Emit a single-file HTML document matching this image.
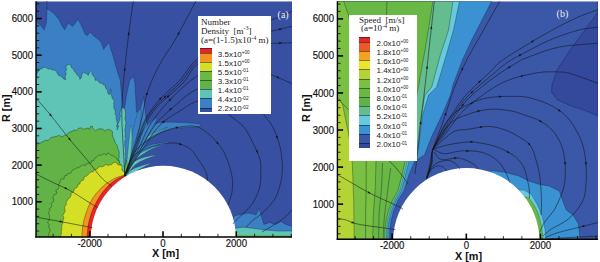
<!DOCTYPE html>
<html><head><meta charset="utf-8"><style>
html,body{margin:0;padding:0;background:#fff;}
body{width:600px;height:262px;position:relative;overflow:hidden;font-family:"Liberation Sans",sans-serif;}
svg{position:absolute;left:0;top:0;}
.tl{position:absolute;font-size:9.6px;line-height:11px;color:#111;white-space:nowrap;-webkit-text-stroke:0.15px #111;transform:scaleY(1.08);}
.tl.c{width:40px;text-align:center;}
.ax{position:absolute;font-size:10.8px;font-weight:bold;line-height:12px;color:#111;white-space:nowrap;}
.leg{position:absolute;background:#fff;box-sizing:border-box;}
.bx{position:absolute;width:11.8px;box-sizing:border-box;border-top:0.6px solid rgba(0,0,0,0.45);}
.lt{position:absolute;font-family:"Liberation Serif",serif;font-size:9px;line-height:9px;color:#1a1a1a;white-space:nowrap;}
.lt sup{font-size:5.6px;vertical-align:baseline;position:relative;top:-3.4px;margin-left:0.3px;}
.ll{position:absolute;font-size:8px;line-height:9px;color:#1a1a1a;white-space:nowrap;}
.ll sup{font-size:4.6px;vertical-align:top;position:relative;top:-1.5px;}
.pl{position:absolute;font-family:"Liberation Serif",serif;font-size:10px;line-height:12px;color:#eeeef6;white-space:nowrap;}
</style></head><body>
<svg width="600" height="262" viewBox="0 0 600 262">
<clipPath id="ca"><rect x="36" y="1.3" width="256" height="235.7"/></clipPath>
<g clip-path="url(#ca)">
<rect x="36" y="1.3" width="256" height="235.7" fill="#3750a2"/>
<polygon points="36.0,21.8 40.6,25.2 44.0,29.8 46.3,22.9 47.0,9.2 46.3,1.3 47.2,1.3 47.4,9.2 49.8,10.3 54.3,13.8 58.9,19.5 62.4,26.4 64.7,29.8 68.1,22.9 72.7,26.4 76.1,21.8 78.4,19.5 81.8,26.4 85.3,34.4 87.6,35.5 89.9,32.1 93.3,35.5 97.9,39.0 101.3,42.4 103.6,49.3 107.1,44.7 109.4,42.4 110.5,48.1 112.8,55.0 115.5,65.0 118.5,75.0 120.3,80.0 121.5,95.0 123.1,110.5 124.5,108.0 126.5,95.0 129.8,80.0 133.7,76.5 135.0,83.7 136.5,112.3 140.0,110.0 143.7,96.5 146.0,118.0 150.0,140.0 124.0,176.0 36.0,176.0" fill="#3b80c4" stroke="#1a2a5a" stroke-width="0.4"/>
<polygon points="36.0,76.6 36.7,74.4 37.5,72.3 39.1,70.7 40.2,68.9 42.1,68.5 43.7,67.2 46.1,67.5 48.2,69.0 50.4,68.8 52.3,69.9 54.8,70.0 56.3,71.6 57.4,73.5 58.5,75.4 60.7,76.1 62.2,77.2 63.4,78.8 65.7,79.7 65.3,77.7 65.3,75.7 66.4,73.9 65.1,71.7 66.6,69.9 66.0,67.9 66.2,65.5 70.0,64.0 70.9,65.7 71.4,67.8 73.4,68.7 74.0,70.6 75.0,72.1 76.3,73.4 77.1,75.0 78.8,76.2 79.8,77.7 79.8,79.4 81.2,77.8 81.6,75.8 82.2,73.8 83.2,72.1 84.8,72.9 86.5,73.7 88.2,75.3 89.1,73.7 89.5,71.8 90.8,70.6 91.8,72.3 92.2,74.4 93.3,76.1 94.9,77.6 95.1,80.2 97.3,80.1 98.6,81.6 99.8,83.0 101.8,83.2 103.1,84.7 105.2,85.3 105.4,87.4 106.2,89.0 107.5,90.3 107.8,92.8 108.9,94.8 110.0,92.9 110.3,90.9 110.6,88.8 111.1,90.6 110.8,92.5 110.9,94.4 111.9,96.1 112.0,98.0 114.4,100.9 113.6,103.0 114.0,104.9 113.7,106.8 114.2,108.7 115.3,110.5 115.4,112.5 115.2,114.4 116.5,116.3 116.0,118.3 116.7,120.2 117.1,122.1 117.4,124.1 116.5,126.2 117.8,128.0 117.0,129.9 117.5,128.2 118.6,126.5 117.6,124.5 118.5,122.9 119.0,121.1 119.8,119.4 120.0,117.6 120.4,115.8 119.8,113.9 120.3,112.1 120.5,110.3 121.3,109.1 122.8,107.2 124.8,109.3 125.5,112.0 125.5,113.8 125.5,115.6 125.2,117.4 125.1,119.2 125.6,121.0 126.1,122.8 125.5,124.6 125.6,126.4 125.3,128.2 124.8,130.0 125.2,131.8 125.4,133.6 125.2,135.5 125.1,137.3 126.1,139.1 124.7,140.9 124.9,142.7 124.7,144.5 124.8,146.4 125.4,148.2 125.4,150.0 125.8,151.9 124.9,153.7 125.8,155.6 125.7,157.5 125.4,159.4 125.4,161.3 125.1,163.1 124.8,165.0 124.6,176.0 36.0,176.0" fill="#5ec4b6" stroke="#1a3a3a" stroke-width="0.45"/>
<polygon points="36.0,147.3 37.0,145.4 38.4,144.2 40.2,143.3 41.7,142.0 43.8,141.5 45.3,140.0 47.9,140.6 49.5,139.2 51.0,137.4 53.0,137.1 55.0,136.8 56.9,136.3 58.8,135.3 60.9,136.4 62.8,136.5 64.6,135.2 66.5,135.0 68.0,133.2 69.9,132.1 72.0,131.4 74.0,130.1 76.6,130.4 78.6,128.3 80.9,127.8 83.2,129.3 85.3,128.7 87.4,128.1 89.4,129.1 90.2,126.8 92.4,126.0 92.6,128.0 93.9,129.4 95.6,130.9 97.6,129.3 100.1,128.7 102.5,129.1 104.8,131.0 106.9,129.8 108.8,129.4 110.9,130.3 112.7,131.8 112.3,134.2 112.6,136.2 113.6,138.1 114.3,140.0 114.9,141.9 115.7,143.7 117.3,145.3 117.4,147.3 118.0,149.1 118.9,150.8 119.2,152.7 119.0,154.6 119.3,156.6 118.7,158.7 118.5,160.8 119.7,162.6 119.0,164.8 119.3,166.8 119.8,168.8 121.3,170.5 122.0,172.5 122.0,174.1 124.6,176.0 90.0,237.0 36.0,237.0" fill="#62b347" stroke="#1a3a1a" stroke-width="0.45"/>
<polygon points="49.7,237.0 48.8,235.5 48.6,233.9 49.6,232.2 50.1,230.5 49.8,228.9 48.7,227.4 49.0,225.8 49.3,224.1 47.3,222.7 48.6,221.1 49.5,219.4 49.4,217.6 49.5,215.9 49.0,214.0 48.4,212.2 50.2,210.6 49.3,208.6 51.0,207.6 52.0,206.2 51.2,204.1 51.8,202.6 53.7,201.6 53.7,199.9 52.9,197.8 53.4,196.3 54.0,194.8 56.4,193.9 56.8,192.3 55.7,190.2 58.0,189.3 58.9,187.9 58.7,186.1 58.6,184.2 60.0,182.9 60.1,180.8 60.9,179.1 64.0,178.9 64.3,176.9 65.0,175.3 67.1,175.3 68.0,173.3 70.1,173.3 71.5,172.3 72.3,170.0 73.8,169.4 75.4,168.7 76.8,167.8 78.8,167.8 79.9,166.3 81.6,165.9 82.9,164.6 85.1,165.8 86.1,163.9 87.7,163.5 89.4,163.2 91.3,162.7 91.7,160.6 93.9,160.5 94.4,158.6 95.8,157.6 97.0,156.5 98.7,154.8 100.8,155.5 102.5,154.5 104.2,153.7 106.4,155.1 107.4,153.1 109.2,153.3 110.4,154.9 112.1,155.5 113.9,156.0 115.2,157.2 116.7,158.1 117.0,159.9 119.4,160.7 119.2,162.9 120.7,164.1 121.6,165.8 120.8,167.9 122.0,169.3 122.3,171.0 122.4,172.9 122.5,174.6 124.0,176.0 90.0,237.0" fill="#6cb845" stroke="#1a3a1a" stroke-width="0.45"/>
<polygon points="60.8,237.0 60.8,235.4 61.3,233.8 61.3,232.2 61.4,230.6 61.9,229.0 61.6,227.4 61.9,225.8 62.0,224.2 63.0,222.7 62.7,221.1 63.4,219.3 63.8,217.5 62.8,215.4 63.8,213.7 64.8,212.1 65.2,210.2 64.5,207.9 65.1,206.1 66.3,204.5 66.2,202.3 67.2,200.9 67.6,199.3 69.4,198.2 70.3,196.8 71.1,195.5 71.0,193.1 73.0,192.3 74.0,190.7 74.3,188.6 76.5,187.9 77.7,186.6 77.7,184.4 79.9,184.0 80.1,182.0 81.3,180.9 83.2,180.2 83.9,178.8 84.4,176.7 86.1,176.2 87.5,175.3 88.6,174.0 89.8,172.7 91.3,171.9 93.3,171.7 94.2,169.5 96.4,169.5 97.8,168.4 99.2,166.7 101.0,166.7 102.8,166.6 104.4,165.8 105.7,164.4 107.8,165.5 109.6,164.8 111.6,164.7 113.2,162.6 115.5,162.6 117.2,163.0 118.1,165.0 120.1,164.9 122.1,165.8 122.1,167.6 121.8,169.4 122.6,170.9 124.2,172.0 125.1,173.8 124.0,176.0 90.0,237.0" fill="#d5df26" stroke="#3a3a10" stroke-width="0.45"/>
<polygon points="82.0,242.7 81.9,241.2 81.9,239.8 81.9,238.3 81.9,236.8 81.9,235.4 82.0,233.9 82.1,232.5 82.2,231.0 82.4,229.6 82.5,228.1 82.7,226.7 83.0,225.3 83.2,223.8 83.5,222.4 83.8,221.0 84.1,219.6 84.5,218.2 84.9,216.8 85.3,215.4 85.7,214.0 86.2,212.6 86.7,211.2 87.2,209.9 87.7,208.5 88.2,207.2 88.8,205.8 89.4,204.5 90.0,203.2 90.7,201.9 91.4,200.6 92.0,199.3 92.8,198.1 93.6,196.9 94.5,195.7 95.4,194.6 96.3,193.4 97.2,192.3 98.2,191.3 99.2,190.2 100.2,189.2 101.2,188.1 102.2,187.1 103.2,186.1 104.3,185.2 105.4,184.3 106.6,183.5 107.8,182.6 109.0,181.8 110.2,181.1 111.4,180.3 112.6,179.6 113.8,178.9 115.0,178.2 116.3,177.6 117.7,177.1 119.0,176.7 120.4,176.3 121.7,175.9 123.1,175.5 124.5,175.2 131.9,187.3 131.0,187.9 130.1,188.5 129.2,189.1 128.3,189.7 127.5,190.3 126.6,191.0 125.8,191.6 125.0,192.3 124.1,193.0 123.3,193.7 122.5,194.4 121.8,195.2 121.0,195.9 120.2,196.7 119.5,197.4 118.8,198.2 118.1,199.0 117.4,199.8 116.7,200.7 116.0,201.5 115.4,202.4 114.7,203.2 114.1,204.1 113.5,205.0 112.9,205.9 112.4,206.8 111.8,207.7 111.3,208.6 110.7,209.6 110.2,210.5 109.7,211.5 109.3,212.4 108.8,213.4 108.4,214.4 108.0,215.4 107.5,216.4 107.2,217.4 106.8,218.4 106.4,219.4 106.1,220.4 105.8,221.4 105.5,222.4 105.2,223.5 105.0,224.5 104.7,225.6 104.5,226.6 104.3,227.7 104.1,228.7 104.0,229.8 103.8,230.8 103.7,231.9 103.6,233.0 103.5,234.0 103.4,235.1 103.4,236.2 103.4,237.3 103.4,238.3 103.4,239.4 103.4,240.5 103.4,241.5" fill="#f39323" stroke="#3a2a10" stroke-width="0.4"/>
<polygon points="87.3,242.4 87.2,241.0 87.2,239.7 87.2,238.3 87.2,236.9 87.2,235.6 87.3,234.2 87.4,232.9 87.5,231.5 87.6,230.2 87.8,228.8 87.9,227.5 88.1,226.1 88.4,224.8 88.6,223.4 88.9,222.1 89.2,220.8 89.5,219.5 89.9,218.1 90.3,216.8 90.7,215.5 91.1,214.2 91.5,212.9 92.0,211.7 92.5,210.4 93.0,209.1 93.5,207.9 94.1,206.6 94.7,205.4 95.3,204.2 95.9,203.0 96.5,201.8 97.2,200.6 97.9,199.4 98.6,198.3 99.3,197.1 100.1,196.0 100.8,194.8 101.6,193.7 102.4,192.6 103.2,191.6 104.1,190.5 105.0,189.4 105.8,188.4 106.7,187.4 107.7,186.4 108.6,185.4 109.6,184.4 110.6,183.6 111.7,182.7 112.8,181.9 113.9,181.1 115.0,180.4 116.1,179.6 117.3,178.9 118.5,178.3 119.7,177.7 121.0,177.1 122.2,176.6 123.4,176.0 124.7,175.5 131.9,187.3 131.0,187.9 130.1,188.5 129.2,189.1 128.3,189.7 127.5,190.3 126.6,191.0 125.8,191.6 125.0,192.3 124.1,193.0 123.3,193.7 122.5,194.4 121.8,195.2 121.0,195.9 120.2,196.7 119.5,197.4 118.8,198.2 118.1,199.0 117.4,199.8 116.7,200.7 116.0,201.5 115.4,202.4 114.7,203.2 114.1,204.1 113.5,205.0 112.9,205.9 112.4,206.8 111.8,207.7 111.3,208.6 110.7,209.6 110.2,210.5 109.7,211.5 109.3,212.4 108.8,213.4 108.4,214.4 108.0,215.4 107.5,216.4 107.2,217.4 106.8,218.4 106.4,219.4 106.1,220.4 105.8,221.4 105.5,222.4 105.2,223.5 105.0,224.5 104.7,225.6 104.5,226.6 104.3,227.7 104.1,228.7 104.0,229.8 103.8,230.8 103.7,231.9 103.6,233.0 103.5,234.0 103.4,235.1 103.4,236.2 103.4,237.3 103.4,238.3 103.4,239.4 103.4,240.5 103.4,241.5" fill="#e3262a" stroke="#3a1010" stroke-width="0.4"/>
<polygon points="226.0,237.0 234.3,215.8 248.6,212.9 256.0,214.8 259.1,208.1 261.0,214.8 263.9,224.4 269.6,222.4 275.3,224.4 281.0,221.5 285.8,224.4 292.0,226.3 292.0,237.0" fill="#3b80c4" stroke="#1a2a5a" stroke-width="0.4"/>
<polygon points="230.0,237.0 235.3,228.2 242.9,227.2 252.4,228.2 265.8,230.0 277.3,231.0 292.0,231.0 292.0,237.0" fill="#5ec4b6" stroke="#1a3a3a" stroke-width="0.4"/>
<polygon points="234.0,237.0 240.0,235.0 260.0,235.3 292.0,235.5 292.0,237.0" fill="#62b347" stroke="none"/>
<polygon points="124.6,176.0 125.9,172.2 127.1,168.4 128.5,164.5 130.0,160.0 131.6,154.6 133.3,148.5 135.4,142.6 138.0,137.4 141.3,133.1 145.2,129.4 149.4,126.3 154.0,124.0 158.9,122.6 164.2,122.2 169.8,122.1 175.5,122.2 182.0,122.4 189.1,122.8 195.4,123.4 199.6,124.0 201.3,124.6 201.1,125.4 199.6,126.1 197.0,126.7 192.8,127.1 187.1,127.5 180.9,127.9 175.5,128.5 171.1,129.4 167.0,130.5 163.2,131.8 159.5,133.4 155.9,135.4 152.4,137.7 149.1,140.3 146.0,142.8 143.1,145.2 140.3,147.7 137.8,150.4 135.4,153.5 133.3,157.2 131.5,161.4 129.8,165.7 128.0,170.0" fill="#3b80c4" stroke="#1a2a5a" stroke-width="0.4"/>
<polygon points="126.0,172.0 127.8,166.7 129.5,161.3 131.2,156.2 133.0,152.0 134.6,149.0 136.2,146.8 137.9,145.0 140.0,143.0 142.6,140.7 145.5,138.4 148.6,136.1 152.0,134.0 156.2,131.9 161.0,129.7 165.2,127.9 167.5,127.0 167.4,127.1 165.6,128.0 162.9,129.4 160.0,131.0 156.9,132.8 153.2,135.0 149.4,137.4 146.0,140.0 143.1,142.6 140.6,145.4 138.2,148.5 136.0,152.0 134.0,156.1 132.3,160.6 130.7,165.4 129.0,170.0" fill="#5ec4b6" stroke="#1a3a3a" stroke-width="0.3"/>
<polygon points="125.5,173.0 127.9,168.2 130.2,163.3 132.7,158.7 135.4,154.8 138.5,151.7 141.9,149.2 145.4,147.2 148.8,145.5 152.2,144.3 155.7,143.7 159.0,143.2 162.0,142.8 165.0,142.2 167.9,141.7 170.1,141.3 171.0,141.4 170.2,142.0 168.1,143.0 165.2,144.2 162.0,145.5 158.4,146.9 154.3,148.4 150.0,150.1 146.0,152.0 142.3,154.1 138.7,156.4 135.4,158.9 132.7,161.5 130.7,164.2 129.4,167.1 128.2,170.1 127.0,173.0" fill="#3b80c4" stroke="#1a2a5a" stroke-width="0.3"/>
<polygon points="126.0,173.0 128.7,168.5 131.4,163.9 134.1,159.6 137.0,156.0 140.2,153.4 143.6,151.4 146.9,149.9 150.0,148.5 153.2,147.1 156.6,145.9 159.1,145.1 160.0,145.0 158.6,145.7 155.5,147.2 151.7,149.0 148.0,151.0 144.5,153.2 140.7,155.6 137.0,158.3 134.0,161.0 131.8,163.9 130.3,166.9 128.9,170.0 127.5,173.0" fill="#5ec4b6" stroke="#1a3a3a" stroke-width="0.3"/>
<polygon points="125.0,174.0 126.1,171.5 127.0,168.9 128.2,166.4 130.0,164.2 132.8,162.2 136.2,160.4 139.8,158.8 143.4,157.5 147.4,156.4 151.7,155.5 155.3,154.9 157.0,154.8 156.0,155.3 153.0,156.4 149.3,157.7 146.0,159.0 143.2,160.3 140.3,161.6 137.5,163.2 135.0,165.0 132.8,167.2 130.8,169.8 128.9,172.4 127.0,175.0" fill="#5ec4b6" stroke="#1a3a3a" stroke-width="0.3"/>
<polygon points="125.0,175.0 127.4,173.2 129.6,171.4 132.1,169.6 135.0,168.0 139.2,166.4 144.3,164.7 148.8,163.4 151.0,163.0 150.2,163.7 147.2,165.2 143.5,167.2 140.0,169.0 137.1,170.7 134.1,172.4 131.0,174.2 128.0,176.0" fill="#5ec4b6" stroke="#1a3a3a" stroke-width="0.3"/>
<polygon points="125.0,174.0 126.1,167.9 127.3,161.8 128.4,155.7 129.5,150.0 130.4,144.7 131.2,139.6 132.0,134.8 133.0,130.0 134.2,125.0 135.5,119.9 136.9,115.3 138.0,112.0 139.0,110.0 139.9,108.9 140.6,108.9 141.0,110.0 141.1,112.3 141.0,115.8 140.6,120.1 140.0,125.0 139.1,130.6 137.9,136.9 136.5,143.6 135.0,150.0 133.4,156.1 131.6,162.1 129.8,168.0 128.0,174.0" fill="#3b80c4" stroke="#1a2a5a" stroke-width="0.3"/>
<polygon points="125.0,172.0 126.9,166.5 128.8,161.0 130.7,155.5 133.0,150.0 135.7,144.2 138.8,138.2 141.9,132.7 145.0,128.0 148.4,124.1 152.2,120.8 155.3,118.5 157.0,118.0 156.7,119.6 155.0,122.9 152.5,127.3 150.0,132.0 147.3,137.2 144.2,143.2 141.0,149.4 138.0,155.0 135.2,159.9 132.4,164.3 129.7,168.6 127.0,173.0" fill="#3b80c4" stroke="#1a2a5a" stroke-width="0.3"/>
<polygon points="125.0,174.0 125.5,170.6 126.0,167.4 126.5,163.9 127.0,160.0 127.5,155.3 128.0,150.1 128.5,144.8 129.0,140.0 129.5,135.2 130.1,130.3 130.6,126.5 131.0,125.0 131.4,126.5 131.8,130.3 132.0,135.2 132.0,140.0 131.7,144.8 131.3,150.0 130.7,155.2 130.0,160.0 129.2,164.1 128.3,167.8 127.4,171.4 126.5,175.0" fill="#5ec4b6" stroke="#1a3a3a" stroke-width="0.3"/>
<polygon points="124.6,176.0 125.0,168.0 126.5,160.0 128.0,168.0 126.0,176.0" fill="#62b347" stroke="#1a3a1a" stroke-width="0.3"/>
<circle cx="163.35" cy="238.4" r="72.6" fill="#fff"/>
<polyline points="124.6,176.0 124.5,174.1 124.5,172.3 124.4,170.6 124.4,168.9 124.3,167.0 124.2,165.0 124.1,162.7 124.0,160.0 123.8,156.9 123.6,153.2 123.4,149.3 123.1,145.2 122.9,141.1 122.7,137.1 122.5,133.4 122.3,130.0 122.2,127.0 122.0,124.4 121.9,121.9 121.9,119.6 121.8,117.3 121.8,115.0 121.8,112.6 121.8,110.0 121.9,107.3 122.0,104.5 122.1,101.7 122.2,98.8 122.4,95.8 122.6,92.7 122.8,89.5 123.1,86.2 123.4,82.7 123.7,79.0 124.1,75.1 124.5,71.2 124.9,67.1 125.3,63.1 125.8,59.1 126.2,55.2 126.6,51.3 127.1,47.3 127.6,43.3 128.1,39.3 128.6,35.3 129.0,31.5 129.5,27.7 130.0,24.1 130.5,20.7 130.9,17.4 131.4,14.2 131.8,11.2 132.3,8.1 132.7,5.1 133.2,2.1 133.6,-1.0" fill="none" stroke="#141414" stroke-width="0.55" stroke-linejoin="round"/>
<polygon points="124.9,67.6 125.7,70.7 123.5,70.4" fill="#141414"/>
<polygon points="129.0,31.8 129.7,34.9 127.5,34.6" fill="#141414"/>
<polyline points="124.6,176.0 125.6,172.8 126.7,169.6 127.8,166.4 128.8,163.2 129.8,160.0 130.9,156.8 131.9,153.4 133.0,150.0 134.1,146.4 135.2,142.7 136.3,139.0 137.3,135.1 138.4,131.3 139.5,127.5 140.5,123.7 141.4,120.0 142.2,116.4 142.9,112.8 143.6,109.3 144.2,105.8 144.9,102.3 145.6,98.8 146.5,95.4 147.5,91.9 148.7,88.4 150.0,84.9 151.5,81.4 153.0,77.9 154.6,74.5 156.3,71.0 158.0,67.7 159.7,64.4 161.4,61.3 163.1,58.5 164.9,55.8 166.7,53.0 168.6,50.2 170.6,47.2 172.7,43.8 175.0,40.0 177.4,35.7 180.0,30.9 182.8,25.8 185.6,20.5 188.5,15.1 191.3,9.6 194.2,4.2 197.0,-1.0" fill="none" stroke="#141414" stroke-width="0.55" stroke-linejoin="round"/>
<polygon points="147.4,92.1 147.6,95.3 145.5,94.7" fill="#141414"/>
<polygon points="179.5,31.9 179.0,35.0 177.1,34.0" fill="#141414"/>
<polyline points="124.6,176.0 125.8,172.8 126.9,169.5 128.1,166.3 129.3,163.1 130.4,159.9 131.6,156.6 132.8,153.3 134.0,150.0 135.2,146.5 136.4,142.9 137.7,139.2 138.9,135.4 140.2,131.8 141.4,128.3 142.7,125.0 144.0,122.0 145.3,119.3 146.7,116.8 148.1,114.5 149.6,112.4 151.0,110.4 152.4,108.5 153.7,106.7 155.0,105.0 156.2,103.4 157.2,102.1 158.2,101.0 159.2,99.9 160.2,98.8 161.3,97.7 162.6,96.4 164.0,95.0 165.7,93.4 167.5,91.7 169.5,90.0 171.5,88.1 173.7,86.2 175.8,84.2 177.9,82.1 180.0,80.0 181.9,77.8 183.6,75.4 185.3,73.0 187.0,70.4 188.9,67.9 191.0,65.3 193.4,62.6 196.3,60.0 199.7,57.3 203.6,54.5 207.8,51.5 212.3,48.6 216.9,45.8 221.4,43.0 225.8,40.4 230.0,38.0 234.1,35.8 238.2,33.7 242.3,31.7 246.4,29.9 250.2,28.2 253.9,26.6 257.1,25.2 260.0,24.0 262.3,23.0 264.0,22.4 265.4,21.9 266.5,21.6 267.6,21.4 268.7,21.0 270.1,20.6 271.9,19.9 274.1,19.0 276.5,18.0 279.1,16.9 281.9,15.8 284.7,14.5 287.5,13.3 290.3,12.1 293.0,11.0" fill="none" stroke="#141414" stroke-width="0.55" stroke-linejoin="round"/>
<polygon points="161.9,97.1 160.6,100.0 159.0,98.5" fill="#141414"/>
<polyline points="124.6,176.0 125.9,172.8 127.2,169.5 128.5,166.3 129.8,163.1 131.1,159.9 132.4,156.6 133.7,153.3 135.0,150.0 136.3,146.5 137.5,142.9 138.7,139.1 140.0,135.4 141.2,131.7 142.4,128.2 143.7,124.9 145.0,122.0 146.3,119.4 147.7,117.0 149.1,114.9 150.5,112.9 151.9,111.0 153.3,109.3 154.7,107.6 156.0,106.0 157.3,104.5 158.4,103.2 159.6,102.0 160.7,100.9 161.9,99.9 163.1,98.7 164.5,97.4 166.0,96.0 167.7,94.4 169.6,92.7 171.6,90.9 173.7,89.1 175.8,87.1 177.9,85.1 180.0,83.1 182.0,81.0 183.8,78.8 185.4,76.6 186.9,74.2 188.4,71.8 190.1,69.4 192.0,66.9 194.3,64.5 197.0,62.0 200.3,59.5 204.1,56.8 208.2,54.1 212.6,51.4 217.1,48.8 221.5,46.3 225.9,44.0 230.0,42.0 234.0,40.2 238.1,38.6 242.3,37.1 246.3,35.8 250.2,34.7 253.8,33.6 257.1,32.8 260.0,32.0 262.3,31.5 264.0,31.2 265.4,31.1 266.5,31.2 267.6,31.3 268.7,31.3 270.1,31.3 271.9,31.0 274.1,30.6 276.5,30.0 279.1,29.4 281.9,28.8 284.7,28.1 287.5,27.3 290.3,26.7 293.0,26.0" fill="none" stroke="#141414" stroke-width="0.55" stroke-linejoin="round"/>
<polygon points="166.4,95.6 165.0,98.5 163.5,96.9" fill="#141414"/>
<polygon points="282.1,28.7 279.4,30.5 278.9,28.3" fill="#141414"/>
<polyline points="124.6,176.0 126.0,172.8 127.5,169.5 128.9,166.3 130.4,163.1 131.8,159.8 133.2,156.6 134.6,153.3 136.0,150.0 137.3,146.6 138.6,143.1 139.8,139.5 141.0,135.9 142.2,132.4 143.5,129.0 144.7,125.9 146.0,123.0 147.3,120.4 148.7,118.1 150.1,115.9 151.5,113.9 152.9,112.1 154.3,110.3 155.6,108.6 157.0,107.0 158.3,105.5 159.5,104.2 160.7,103.0 161.9,101.9 163.1,100.9 164.5,99.7 165.9,98.4 167.5,97.0 169.3,95.4 171.3,93.7 173.4,91.9 175.5,90.0 177.7,88.1 179.9,86.1 182.0,84.1 184.0,82.0 185.7,79.9 187.3,77.7 188.6,75.4 190.0,73.1 191.5,70.7 193.3,68.4 195.4,66.2 198.0,64.0 201.2,61.8 204.8,59.6 208.8,57.4 213.0,55.2 217.4,53.1 221.7,51.2 226.0,49.5 230.0,48.0 234.0,46.8 238.1,45.8 242.2,45.1 246.3,44.5 250.2,44.0 253.8,43.6 257.1,43.3 260.0,43.0 262.3,42.8 264.0,42.7 265.4,42.8 266.5,42.9 267.6,43.1 268.7,43.3 270.1,43.4 271.9,43.4 274.1,43.4 276.5,43.3 279.1,43.2 281.9,43.1 284.7,43.0 287.5,42.9 290.3,42.8 293.0,42.7" fill="none" stroke="#141414" stroke-width="0.55" stroke-linejoin="round"/>
<polygon points="169.6,95.1 168.1,97.9 166.6,96.3" fill="#141414"/>
<polygon points="282.1,43.1 279.1,44.3 279.1,42.1" fill="#141414"/>
<polyline points="124.6,176.0 126.3,172.7 128.0,169.5 129.7,166.2 131.4,162.9 133.1,159.7 134.7,156.4 136.4,153.2 138.0,150.0 139.5,146.8 140.9,143.7 142.3,140.5 143.7,137.4 145.1,134.3 146.5,131.2 148.2,128.1 150.0,125.0 152.0,122.0 154.0,118.9 156.2,115.9 158.5,113.0 160.9,110.0 163.4,107.0 166.1,104.0 168.9,101.0 171.9,97.9 175.1,94.6 178.5,91.3 182.0,88.0 185.6,84.8 189.2,81.8 192.8,79.0 196.3,76.6 199.8,74.4 203.4,72.5 206.9,70.7 210.5,69.1 214.1,67.7 217.7,66.6 221.3,65.7 225.0,65.0 228.8,64.6 232.7,64.6 236.7,64.9 240.7,65.3 244.7,65.9 248.4,66.6 251.9,67.3 255.0,68.0 257.7,68.7 260.0,69.4 262.1,70.2 264.0,71.1 265.8,72.0 267.7,72.9 269.7,73.9 271.9,74.9 274.3,75.9 276.9,77.0 279.5,78.2 282.2,79.3 284.9,80.5 287.6,81.7 290.3,82.8 293.0,84.0" fill="none" stroke="#141414" stroke-width="0.55" stroke-linejoin="round"/>
<polygon points="171.5,98.3 170.2,101.2 168.6,99.7" fill="#141414"/>
<polygon points="279.7,78.2 276.5,78.0 277.3,76.0" fill="#141414"/>
<polyline points="124.6,176.0 126.5,172.7 128.5,169.5 130.4,166.2 132.3,162.9 134.3,159.7 136.2,156.4 138.1,153.2 140.0,150.0 141.9,146.8 143.7,143.5 145.4,140.3 147.2,137.1 149.0,133.9 150.9,130.8 152.9,127.9 155.0,125.0 157.2,122.3 159.6,119.7 162.0,117.2 164.5,114.8 167.1,112.4 169.7,110.1 172.3,107.9 175.0,105.6 177.7,103.3 180.4,100.9 183.2,98.5 186.0,96.2 188.9,94.0 191.8,92.0 194.8,90.3 197.9,88.9 201.1,87.8 204.4,86.9 207.8,86.2 211.3,85.7 214.8,85.5 218.3,85.4 221.7,85.6 225.0,86.0 228.3,86.7 231.6,87.6 235.0,88.7 238.2,90.1 241.4,91.6 244.5,93.3 247.4,95.1 250.0,97.0 252.4,99.1 254.7,101.5 256.7,104.0 258.7,106.7 260.5,109.4 262.1,111.9 263.7,114.3 265.2,116.4 266.5,118.1 267.7,119.6 268.7,120.9 269.6,122.1 270.5,123.2 271.3,124.5 272.1,125.9 273.0,127.5 273.9,129.4 274.8,131.6 275.8,133.8 276.7,136.2 277.5,138.6 278.3,140.9 279.0,143.2 279.6,145.2 280.1,147.1 280.5,148.9 280.8,150.6 281.1,152.2 281.3,153.8 281.5,155.4 281.6,157.0 281.8,158.5 282.0,160.0 282.1,161.5 282.2,162.9 282.3,164.3 282.3,165.7 282.4,167.1 282.3,168.5 282.3,170.0 282.2,171.5 282.1,173.0 282.0,174.6 281.9,176.1 281.7,177.7 281.4,179.3 281.1,181.0 280.7,182.7 280.2,184.5 279.7,186.4 279.2,188.4 278.5,190.4 277.8,192.4 277.1,194.4 276.2,196.3 275.2,198.2 274.1,200.0 272.8,201.8 271.4,203.5 270.0,205.3 268.5,206.9 267.0,208.5 265.5,210.1 264.1,211.5 262.7,212.8 261.2,214.1 259.8,215.2 258.3,216.3 256.9,217.4 255.5,218.4 254.2,219.3 253.0,220.3 251.9,221.2 251.0,222.1 250.1,223.0 249.2,223.8 248.4,224.6 247.7,225.4 246.8,226.2 246.0,227.0" fill="none" stroke="#141414" stroke-width="0.55" stroke-linejoin="round"/>
<polygon points="172.2,108.0 170.7,110.7 169.2,109.1" fill="#141414"/>
<polygon points="244.4,93.3 241.2,92.8 242.3,90.9" fill="#141414"/>
<polygon points="277.6,138.9 275.6,136.5 277.6,135.7" fill="#141414"/>
<polyline points="124.6,176.0 126.8,172.7 128.9,169.5 131.1,166.2 133.3,162.9 135.4,159.7 137.6,156.4 139.8,153.2 142.0,150.0 144.2,146.8 146.4,143.4 148.6,140.1 150.8,136.8 153.0,133.6 155.3,130.5 157.6,127.6 160.0,125.0 162.5,122.6 165.1,120.5 167.8,118.5 170.6,116.6 173.3,114.9 176.0,113.3 178.6,111.7 181.0,110.2 183.3,108.7 185.5,107.3 187.6,105.9 189.7,104.6 191.7,103.5 193.8,102.5 195.8,101.6 197.9,101.0 200.0,100.6 202.2,100.2 204.4,100.1 206.6,100.1 208.7,100.3 210.9,100.6 213.0,101.2 215.0,102.0 217.0,103.1 218.9,104.5 220.7,106.1 222.6,107.9 224.4,109.9 226.2,111.8 228.0,113.6 229.8,115.3 231.7,116.9 233.6,118.3 235.5,119.8 237.4,121.3 239.2,122.7 241.0,124.2 242.7,125.8 244.2,127.5 245.6,129.3 246.8,131.1 248.0,133.1 249.1,135.0 250.1,137.0 251.1,139.0 252.0,141.0 253.0,143.0 254.0,145.0 255.0,147.0 255.9,149.0 256.8,151.0 257.7,153.0 258.5,154.9 259.1,156.8 259.7,158.5 260.1,160.1 260.4,161.5 260.6,162.9 260.7,164.2 260.8,165.5 260.8,166.8 260.8,168.3 260.8,170.0 260.8,171.9 260.8,173.9 260.8,176.1 260.7,178.3 260.6,180.6 260.4,182.8 260.1,185.0 259.7,187.1 259.1,189.2 258.5,191.2 257.7,193.3 256.8,195.3 255.9,197.3 255.0,199.1 254.0,200.9 253.0,202.6 252.0,204.1 250.9,205.5 249.9,206.8 248.7,208.0 247.6,209.2 246.5,210.3 245.3,211.5 244.2,212.6 243.0,213.8 241.8,214.9 240.6,216.1 239.3,217.2 238.2,218.3 237.1,219.3 236.1,220.2 235.3,221.0 234.7,221.6 234.3,222.1 234.0,222.5 233.7,222.8 233.6,223.1 233.4,223.4 233.2,223.7 233.0,224.0" fill="none" stroke="#141414" stroke-width="0.55" stroke-linejoin="round"/>
<polygon points="165.1,120.5 163.4,123.3 162.0,121.6" fill="#141414"/>
<polygon points="224.6,110.1 221.7,108.6 223.3,107.1" fill="#141414"/>
<polygon points="257.9,153.5 255.7,151.1 257.7,150.3" fill="#141414"/>
<polyline points="124.6,176.0 125.7,173.1 126.8,170.0 127.9,166.9 129.0,163.9 130.1,160.9 131.3,158.0 132.6,155.4 134.0,153.0 135.5,150.9 137.1,149.0 138.8,147.2 140.5,145.6 142.3,144.1 144.2,142.7 146.1,141.4 148.0,140.0 150.0,138.6 152.1,137.4 154.2,136.1 156.4,134.9 158.6,133.8 160.8,132.8 163.0,131.9 165.0,131.0 167.0,130.2 168.9,129.6 170.7,129.0 172.6,128.5 174.4,128.0 176.3,127.6 178.1,127.3 180.0,127.0 181.9,126.7 183.9,126.4 185.9,126.2 187.9,126.0 189.8,125.9 191.8,125.9 193.7,126.1 195.5,126.4 197.3,126.9 199.0,127.6 200.7,128.4 202.4,129.4 204.0,130.4 205.6,131.6 207.2,132.8 208.8,134.1 210.4,135.5 212.1,137.1 213.8,138.8 215.4,140.6 217.0,142.4 218.4,144.1 219.8,145.8 221.0,147.4 222.0,148.9 222.9,150.3 223.6,151.6 224.3,152.9 224.9,154.2 225.4,155.5 226.0,156.7 226.5,158.0 227.0,159.3 227.5,160.5 228.0,161.7 228.4,162.9 228.8,164.1 229.2,165.4 229.6,166.7 230.0,168.0 230.4,169.4 230.8,170.9 231.1,172.4 231.5,173.9 231.8,175.4 232.1,177.0 232.3,178.5 232.5,180.0 232.6,181.5 232.6,183.0 232.6,184.5 232.6,186.0 232.5,187.4 232.3,188.9 232.2,190.3 232.0,191.6 231.8,192.9 231.5,194.2 231.2,195.5 230.8,196.8 230.5,198.0 230.1,199.1 229.8,200.1 229.5,201.0 229.2,201.8 229.0,202.4 228.8,202.9 228.6,203.3 228.4,203.7 228.2,204.1 228.0,204.5 227.8,205.0" fill="none" stroke="#141414" stroke-width="0.55" stroke-linejoin="round"/>
<polygon points="178.8,127.2 176.0,128.8 175.6,126.6" fill="#141414"/>
<polygon points="218.7,144.5 216.0,142.9 217.6,141.5" fill="#141414"/>
<polyline points="124.6,176.0 125.5,173.7 126.4,171.3 127.2,168.8 128.1,166.4 129.0,164.0 129.9,161.8 130.9,159.8 132.0,158.0 133.2,156.5 134.4,155.2 135.7,154.1 137.0,153.2 138.4,152.3 139.9,151.6 141.4,150.8 143.0,150.0 144.7,149.2 146.5,148.5 148.5,147.8 150.4,147.1 152.4,146.5 154.4,146.0 156.2,145.5 158.0,145.0 159.7,144.6 161.3,144.2 162.8,143.9 164.3,143.6 165.8,143.4 167.2,143.2 168.6,143.1 170.0,143.0 171.3,143.0 172.6,143.0 173.9,143.0 175.1,143.1 176.3,143.2 177.5,143.4 178.7,143.7 180.0,144.1 181.4,144.6 182.8,145.1 184.2,145.7 185.7,146.4 187.1,147.1 188.5,147.9 189.8,148.7 191.0,149.6 192.1,150.6 193.0,151.6 193.9,152.8 194.8,154.0 195.5,155.2 196.3,156.4 197.0,157.5 197.7,158.5 198.4,159.4 199.0,160.2 199.5,161.0 200.0,161.8 200.5,162.5 201.0,163.3 201.6,164.1 202.1,165.0 202.7,166.0 203.3,167.1 203.9,168.3 204.6,169.4 205.2,170.6 205.7,171.8 206.2,172.9 206.6,173.9 206.9,174.8 207.1,175.7 207.2,176.5 207.3,177.3 207.3,178.1 207.4,178.9 207.4,179.7 207.5,180.5" fill="none" stroke="#141414" stroke-width="0.55" stroke-linejoin="round"/>
<polygon points="182.2,144.8 179.0,144.9 179.7,142.8" fill="#141414"/>
<polyline points="35.0,97.0 36.8,99.1 38.6,101.1 40.3,103.1 42.1,105.1 43.9,107.1 45.7,109.3 47.7,111.5 49.7,114.0 51.9,116.7 54.1,119.5 56.5,122.6 58.9,125.7 61.3,128.8 63.8,131.9 66.2,135.0 68.6,138.0 71.0,140.9 73.4,143.8 75.9,146.7 78.4,149.6 80.8,152.5 83.1,155.2 85.4,157.9 87.5,160.4 89.5,162.9 91.4,165.3 93.2,167.6 94.9,169.8 96.6,172.0 98.2,174.0 99.8,175.9 101.3,177.6 102.8,179.1 104.2,180.4 105.5,181.5 106.8,182.6 108.1,183.5 109.4,184.5 110.7,185.4 112.0,186.5" fill="none" stroke="#141414" stroke-width="0.55" stroke-linejoin="round"/>
<polygon points="51.8,116.6 49.0,114.9 50.8,113.6" fill="#141414"/>
<polygon points="70.8,140.7 68.1,139.1 69.8,137.7" fill="#141414"/>
<polyline points="35.0,173.5 37.1,174.6 39.2,175.6 41.3,176.7 43.5,177.8 45.6,178.8 47.7,179.9 49.8,180.9 52.0,182.0 54.2,183.0 56.3,184.0 58.4,184.9 60.6,185.9 62.8,186.9 65.0,187.9 67.3,189.1 69.6,190.3 72.1,191.7 74.8,193.4 77.6,195.1 80.4,196.9 83.2,198.6 85.7,200.3 88.0,201.8 90.0,203.0 91.6,204.0 92.8,204.7 93.8,205.3 94.6,205.8 95.3,206.2 95.9,206.6 96.7,207.0 97.5,207.5" fill="none" stroke="#141414" stroke-width="0.55" stroke-linejoin="round"/>
<polygon points="67.6,189.2 64.4,188.8 65.4,186.9" fill="#141414"/>
<polyline points="35.0,217.0 38.5,217.6 42.0,218.2 45.5,218.9 49.0,219.5 52.4,220.1 55.9,220.7 59.4,221.4 62.8,222.0 66.4,222.7 70.2,223.4 74.1,224.2 77.9,224.9 81.5,225.6 84.8,226.2 87.6,226.8 89.7,227.2 91.1,227.5 91.8,227.6 92.1,227.7 92.0,227.7 91.6,227.6 91.3,227.5 91.0,227.5 91.0,227.5" fill="none" stroke="#141414" stroke-width="0.55" stroke-linejoin="round"/>
<polygon points="62.7,222.0 59.5,222.5 59.9,220.3" fill="#141414"/>
<polyline points="293.0,209.0 291.9,210.1 290.8,211.3 289.8,212.4 288.7,213.6 287.6,214.7 286.5,215.8 285.3,216.9 284.0,218.0 282.6,219.1 281.2,220.1 279.6,221.2 278.1,222.2 276.5,223.2 274.9,224.2 273.4,225.1 272.0,226.0 270.7,226.8 269.4,227.6 268.1,228.4 266.9,229.1 265.7,229.8 264.5,230.5 263.2,231.3 262.0,232.0" fill="none" stroke="#141414" stroke-width="0.55" stroke-linejoin="round"/>
</g>
<line x1="36" y1="1.3" x2="36" y2="237.6" stroke="#000" stroke-width="1.4"/>
<line x1="35.3" y1="237.0" x2="292" y2="237.0" stroke="#000" stroke-width="1.4"/>
<line x1="36" y1="231.07" x2="39.2" y2="231.07" stroke="#000" stroke-width="0.8"/>
<line x1="36" y1="223.74" x2="39.2" y2="223.74" stroke="#000" stroke-width="0.8"/>
<line x1="36" y1="216.42" x2="39.2" y2="216.42" stroke="#000" stroke-width="0.8"/>
<line x1="36" y1="209.09" x2="39.2" y2="209.09" stroke="#000" stroke-width="0.8"/>
<line x1="36" y1="201.76" x2="41.7" y2="201.76" stroke="#000" stroke-width="1.6"/>
<line x1="36" y1="194.43" x2="39.2" y2="194.43" stroke="#000" stroke-width="0.8"/>
<line x1="36" y1="187.10" x2="39.2" y2="187.10" stroke="#000" stroke-width="0.8"/>
<line x1="36" y1="179.78" x2="39.2" y2="179.78" stroke="#000" stroke-width="0.8"/>
<line x1="36" y1="172.45" x2="39.2" y2="172.45" stroke="#000" stroke-width="0.8"/>
<line x1="36" y1="165.12" x2="41.7" y2="165.12" stroke="#000" stroke-width="1.6"/>
<line x1="36" y1="157.79" x2="39.2" y2="157.79" stroke="#000" stroke-width="0.8"/>
<line x1="36" y1="150.46" x2="39.2" y2="150.46" stroke="#000" stroke-width="0.8"/>
<line x1="36" y1="143.14" x2="39.2" y2="143.14" stroke="#000" stroke-width="0.8"/>
<line x1="36" y1="135.81" x2="39.2" y2="135.81" stroke="#000" stroke-width="0.8"/>
<line x1="36" y1="128.48" x2="41.7" y2="128.48" stroke="#000" stroke-width="1.6"/>
<line x1="36" y1="121.15" x2="39.2" y2="121.15" stroke="#000" stroke-width="0.8"/>
<line x1="36" y1="113.82" x2="39.2" y2="113.82" stroke="#000" stroke-width="0.8"/>
<line x1="36" y1="106.50" x2="39.2" y2="106.50" stroke="#000" stroke-width="0.8"/>
<line x1="36" y1="99.17" x2="39.2" y2="99.17" stroke="#000" stroke-width="0.8"/>
<line x1="36" y1="91.84" x2="41.7" y2="91.84" stroke="#000" stroke-width="1.6"/>
<line x1="36" y1="84.51" x2="39.2" y2="84.51" stroke="#000" stroke-width="0.8"/>
<line x1="36" y1="77.18" x2="39.2" y2="77.18" stroke="#000" stroke-width="0.8"/>
<line x1="36" y1="69.86" x2="39.2" y2="69.86" stroke="#000" stroke-width="0.8"/>
<line x1="36" y1="62.53" x2="39.2" y2="62.53" stroke="#000" stroke-width="0.8"/>
<line x1="36" y1="55.20" x2="41.7" y2="55.20" stroke="#000" stroke-width="1.6"/>
<line x1="36" y1="47.87" x2="39.2" y2="47.87" stroke="#000" stroke-width="0.8"/>
<line x1="36" y1="40.54" x2="39.2" y2="40.54" stroke="#000" stroke-width="0.8"/>
<line x1="36" y1="33.22" x2="39.2" y2="33.22" stroke="#000" stroke-width="0.8"/>
<line x1="36" y1="25.89" x2="39.2" y2="25.89" stroke="#000" stroke-width="0.8"/>
<line x1="36" y1="18.56" x2="41.7" y2="18.56" stroke="#000" stroke-width="1.6"/>
<line x1="36" y1="11.23" x2="39.2" y2="11.23" stroke="#000" stroke-width="0.8"/>
<line x1="36" y1="3.90" x2="39.2" y2="3.90" stroke="#000" stroke-width="0.8"/>
<line x1="53.08" y1="237.0" x2="53.08" y2="233.8" stroke="#000" stroke-width="0.8"/>
<line x1="71.40" y1="237.0" x2="71.40" y2="233.8" stroke="#000" stroke-width="0.8"/>
<line x1="89.72" y1="237.0" x2="89.72" y2="231.3" stroke="#000" stroke-width="1.6"/>
<line x1="108.04" y1="237.0" x2="108.04" y2="233.8" stroke="#000" stroke-width="0.8"/>
<line x1="126.36" y1="237.0" x2="126.36" y2="233.8" stroke="#000" stroke-width="0.8"/>
<line x1="144.68" y1="237.0" x2="144.68" y2="233.8" stroke="#000" stroke-width="0.8"/>
<line x1="163.00" y1="237.0" x2="163.00" y2="231.3" stroke="#000" stroke-width="1.6"/>
<line x1="181.32" y1="237.0" x2="181.32" y2="233.8" stroke="#000" stroke-width="0.8"/>
<line x1="199.64" y1="237.0" x2="199.64" y2="233.8" stroke="#000" stroke-width="0.8"/>
<line x1="217.96" y1="237.0" x2="217.96" y2="233.8" stroke="#000" stroke-width="0.8"/>
<line x1="236.28" y1="237.0" x2="236.28" y2="231.3" stroke="#000" stroke-width="1.6"/>
<line x1="254.60" y1="237.0" x2="254.60" y2="233.8" stroke="#000" stroke-width="0.8"/>
<line x1="272.92" y1="237.0" x2="272.92" y2="233.8" stroke="#000" stroke-width="0.8"/>
<line x1="291.24" y1="237.0" x2="291.24" y2="233.8" stroke="#000" stroke-width="0.8"/>
<clipPath id="cb"><rect x="337.4" y="1.3" width="260.6" height="238.0"/></clipPath>
<g clip-path="url(#cb)">
<rect x="337.4" y="1.3" width="260.6" height="238.0" fill="#3a57a8"/>
<polygon points="598.0,1.3 598.5,11.0 585.0,30.0 570.0,50.0 557.0,70.0 552.0,85.0 551.5,92.0 557.0,99.5 570.0,105.5 585.0,110.5 598.0,116.0" fill="#34489c" stroke="#1a2050" stroke-width="0.4"/>
<polygon points="337.0,1.3 491.7,1.3 471.7,40.0 462.5,60.0 453.0,85.0 450.5,95.0 442.0,115.0 431.5,137.0 424.5,155.0 414.5,161.5 408.8,175.3 404.2,190.6 398.2,200.0 393.9,210.0 391.2,220.0 389.8,230.0 389.7,239.3 337.0,239.3" fill="#3a92d2" stroke="#1a2a50" stroke-width="0.4"/>
<polygon points="480.0,175.0 492.6,170.6 504.6,172.3 518.3,175.7 528.6,180.9 539.0,184.3 549.2,186.0 559.5,191.2 563.0,201.5 566.4,210.0 573.2,215.2 578.4,223.8 580.1,239.3 500.0,239.3" fill="#3a92d2" stroke="#1a2a50" stroke-width="0.4"/>
<polygon points="515.0,190.0 524.0,190.0 531.0,194.0 537.0,204.0 541.0,213.0 543.5,222.0 545.0,230.0 546.0,239.3 530.0,239.3" fill="#66c9de" stroke="#1a3a40" stroke-width="0.3"/>
<polygon points="522.0,196.0 529.0,198.0 534.0,205.0 538.0,213.0 540.5,222.0 542.0,230.0 543.0,239.3 530.0,239.3" fill="#69b845" stroke="#1a3a1a" stroke-width="0.3"/>
<polygon points="337.0,1.3 459.5,1.3 453.5,30.0 446.0,56.0 436.7,87.0 428.6,95.0 422.6,115.0 419.7,137.0 417.5,150.0 408.8,161.5 405.4,175.3 401.4,190.6 395.9,200.0 391.8,210.0 389.1,220.0 387.8,230.0 387.7,239.3 337.0,239.3" fill="#66c9de" stroke="#1a3a40" stroke-width="0.4"/>
<polygon points="337.0,1.3 453.0,1.3 448.5,30.0 440.0,56.0 431.7,87.0 424.9,95.0 421.4,115.0 418.5,137.0 417.0,150.0 407.2,161.5 403.9,175.3 400.0,190.6 394.6,200.0 390.5,210.0 387.9,220.0 386.6,230.0 386.5,239.3 337.0,239.3" fill="#64bd8e" stroke="#1a3a20" stroke-width="0.4"/>
<polygon points="337.0,1.3 433.0,1.3 425.0,50.0 418.3,87.0 414.0,110.0 410.0,150.0 405.0,161.5 401.9,175.3 398.0,190.6 392.6,200.0 388.6,210.0 386.1,220.0 384.8,230.0 384.7,239.3 337.0,239.3" fill="#69b845" stroke="#1a3a1a" stroke-width="0.4"/>
<polygon points="337.0,1.3 343.7,1.3 348.5,15.0 360.0,80.0 372.0,140.0 376.0,161.5 375.3,187.5 373.4,213.4 372.7,239.3 337.0,239.3" fill="#79c043" stroke="#1e3a1a" stroke-width="0.4"/>
<polygon points="337.0,98.1 338.8,98.1 342.6,104.8 347.4,127.7 350.5,145.0 352.3,163.0 353.7,200.0 354.2,239.3 337.0,239.3" fill="#b4d334" stroke="#2a3a10" stroke-width="0.4"/>
<circle cx="466.3" cy="241.2" r="73.2" fill="#fff"/>
<polyline points="426.5,178.5 426.9,176.6 427.4,174.6 427.8,172.6 428.3,170.7 428.7,168.7 429.2,166.8 429.6,164.9 430.0,163.0 430.4,161.2 430.7,159.5 431.0,157.9 431.3,156.2 431.6,154.6 432.0,152.8 432.4,151.0 433.0,149.0 433.7,146.9 434.5,144.6 435.3,142.3 436.2,139.9 437.2,137.4 438.2,134.9 439.1,132.5 440.0,130.0 440.9,127.5 441.8,125.1 442.6,122.6 443.5,120.1 444.4,117.5 445.3,115.0 446.1,112.5 447.0,110.0 447.8,107.5 448.5,105.2 449.3,102.8 450.0,100.4 450.7,98.0 451.5,95.5 452.5,92.8 453.5,90.0 454.7,87.0 455.9,83.9 457.2,80.6 458.6,77.3 460.1,73.8 461.6,70.4 463.3,66.8 465.0,63.3 466.8,59.7 468.7,56.1 470.8,52.5 472.9,48.8 475.0,45.0 477.2,41.2 479.5,37.3 481.7,33.3 484.0,29.2 486.3,25.0 488.7,20.8 491.2,16.4 493.6,12.1 496.1,7.7 498.6,3.3 501.0,-1.0" fill="none" stroke="#141414" stroke-width="0.55" stroke-linejoin="round"/>
<polygon points="446.2,112.3 446.3,115.4 444.2,114.7" fill="#141414"/>
<polygon points="463.1,67.2 462.9,70.3 460.9,69.4" fill="#141414"/>
<polyline points="426.5,178.5 427.1,176.6 427.7,174.6 428.3,172.6 428.9,170.7 429.5,168.7 430.1,166.8 430.6,164.9 431.0,163.0 431.3,161.2 431.5,159.5 431.6,157.8 431.7,156.2 431.8,154.5 432.1,152.7 432.4,150.9 433.0,149.0 433.8,146.9 434.7,144.7 435.8,142.5 437.0,140.2 438.2,137.8 439.5,135.5 440.8,133.2 442.0,131.0 443.2,128.9 444.3,126.8 445.5,124.8 446.7,122.8 447.9,120.8 449.2,118.7 450.6,116.6 452.0,114.4 453.5,112.1 455.0,109.8 456.5,107.5 458.1,105.1 459.8,102.7 461.7,100.2 463.7,97.6 466.0,95.0 468.6,92.2 471.6,89.2 474.9,86.1 478.2,82.9 481.6,79.8 484.8,76.9 487.6,74.3 490.0,72.0 491.9,70.1 493.3,68.6 494.5,67.3 495.5,66.2 496.4,65.2 497.4,64.2 498.6,63.2 500.0,62.0 501.6,60.8 503.2,59.6 504.9,58.5 506.7,57.3 508.6,56.0 510.8,54.7 513.2,53.2 516.0,51.5 519.2,49.5 522.7,47.4 526.6,45.0 530.7,42.5 534.9,40.0 539.0,37.6 543.1,35.2 547.0,33.0 550.8,30.9 554.5,28.9 558.2,26.9 561.9,24.9 565.6,23.0 569.1,21.2 572.6,19.6 576.0,18.0 579.2,16.6 582.4,15.3 585.4,14.2 588.3,13.1 591.2,12.1 594.1,11.1 597.0,10.1 600.0,9.0" fill="none" stroke="#141414" stroke-width="0.55" stroke-linejoin="round"/>
<polygon points="481.1,80.3 479.6,83.1 478.1,81.5" fill="#141414"/>
<polygon points="534.1,40.5 532.1,42.9 531.0,41.1" fill="#141414"/>
<polyline points="426.5,178.5 427.1,176.6 427.8,174.6 428.5,172.6 429.2,170.7 429.9,168.7 430.5,166.8 431.0,164.9 431.5,163.0 431.8,161.2 431.9,159.5 431.9,157.8 431.9,156.1 432.0,154.4 432.1,152.7 432.4,150.9 433.0,149.0 433.8,147.0 434.9,145.0 436.1,142.9 437.4,140.7 438.8,138.6 440.2,136.4 441.6,134.2 443.0,132.0 444.3,129.8 445.6,127.7 446.9,125.5 448.2,123.3 449.6,121.1 451.0,118.9 452.5,116.6 454.0,114.4 455.5,112.2 457.0,109.9 458.5,107.7 460.1,105.5 461.8,103.2 463.7,100.9 465.7,98.5 468.0,96.0 470.7,93.4 473.7,90.5 477.0,87.6 480.4,84.6 483.9,81.7 487.2,78.9 490.3,76.3 493.0,74.0 495.4,72.0 497.5,70.2 499.4,68.6 501.2,67.1 502.9,65.7 504.6,64.5 506.3,63.2 508.0,62.0 509.7,60.9 511.2,59.9 512.6,59.1 514.0,58.3 515.5,57.5 517.2,56.6 519.2,55.5 521.6,54.3 524.4,52.8 527.6,51.1 531.1,49.2 534.8,47.3 538.7,45.3 542.5,43.4 546.3,41.6 550.0,40.0 553.7,38.5 557.4,37.0 561.2,35.6 565.0,34.3 568.7,33.0 572.3,31.9 575.8,30.9 579.0,30.0 582.0,29.3 584.8,28.8 587.5,28.4 590.0,28.1 592.5,27.8 594.9,27.6 597.4,27.3 600.0,27.0" fill="none" stroke="#141414" stroke-width="0.55" stroke-linejoin="round"/>
<polygon points="473.4,90.8 471.9,93.7 470.4,92.1" fill="#141414"/>
<polygon points="521.8,54.2 519.7,56.5 518.7,54.6" fill="#141414"/>
<polyline points="426.5,178.5 427.2,176.6 428.0,174.6 428.8,172.6 429.5,170.7 430.3,168.7 430.9,166.8 431.5,164.9 432.0,163.0 432.3,161.2 432.3,159.4 432.3,157.7 432.2,156.0 432.1,154.3 432.2,152.6 432.4,150.8 433.0,149.0 433.9,147.1 435.0,145.2 436.3,143.3 437.8,141.3 439.4,139.3 440.9,137.2 442.5,135.1 444.0,133.0 445.4,130.8 446.9,128.5 448.3,126.2 449.8,123.8 451.3,121.4 452.8,119.0 454.4,116.7 456.0,114.4 457.6,112.2 459.1,110.1 460.6,107.9 462.1,105.9 463.8,103.7 465.6,101.6 467.7,99.3 470.0,97.0 472.7,94.5 475.8,91.8 479.0,89.1 482.5,86.3 486.0,83.5 489.5,80.8 492.9,78.3 496.0,76.0 499.0,73.8 502.1,71.8 505.2,69.8 508.2,67.9 511.1,66.2 513.7,64.6 516.0,63.2 518.0,62.0 519.4,61.1 520.0,60.6 520.3,60.3 520.4,60.1 520.6,60.0 521.2,59.8 522.4,59.3 524.4,58.6 527.3,57.5 530.9,56.1 535.0,54.6 539.4,53.0 544.2,51.3 549.1,49.7 554.0,48.3 558.8,47.2 563.6,46.3 568.6,45.6 573.8,45.1 579.0,44.7 584.3,44.3 589.5,43.9 594.8,43.5 600.0,43.0" fill="none" stroke="#141414" stroke-width="0.55" stroke-linejoin="round"/>
<polygon points="463.9,103.5 463.0,106.6 461.2,105.2" fill="#141414"/>
<polygon points="511.0,66.2 509.0,68.7 507.9,66.8" fill="#141414"/>
<polyline points="433.0,149.0 434.6,147.0 436.2,145.1 437.8,143.1 439.4,141.2 441.1,139.2 442.7,137.2 444.3,135.1 446.0,133.0 447.7,130.8 449.4,128.4 451.1,126.0 452.8,123.6 454.6,121.2 456.3,118.8 458.1,116.5 460.0,114.4 461.8,112.4 463.6,110.6 465.3,108.9 467.1,107.2 469.0,105.5 471.1,103.8 473.4,101.9 476.0,100.0 478.9,97.9 482.1,95.5 485.4,93.1 489.0,90.7 492.7,88.2 496.4,86.0 500.2,83.8 504.0,82.0 507.9,80.4 511.9,78.9 516.1,77.6 520.2,76.4 524.4,75.4 528.5,74.5 532.4,73.7 536.0,73.0 539.5,72.5 542.8,72.1 546.1,71.9 549.2,71.8 552.2,71.8 555.0,71.8 557.6,71.9 560.0,72.0 562.1,72.1 563.7,72.2 565.1,72.3 566.3,72.5 567.6,72.8 569.0,73.2 570.8,73.7 573.0,74.4 575.7,75.3 578.8,76.3 582.1,77.5 585.6,78.8 589.3,80.1 592.9,81.4 596.5,82.8 600.0,84.0" fill="none" stroke="#141414" stroke-width="0.55" stroke-linejoin="round"/>
<polygon points="473.5,101.9 471.8,104.6 470.5,102.9" fill="#141414"/>
<polygon points="523.9,75.5 521.2,77.3 520.7,75.2" fill="#141414"/>
<polyline points="433.0,149.0 434.8,145.4 436.5,141.6 438.2,137.8 439.9,134.0 441.7,130.4 443.4,126.9 445.3,123.7 447.2,120.8 449.2,118.3 451.2,116.1 453.2,114.2 455.3,112.4 457.4,110.8 459.6,109.3 462.0,107.9 464.4,106.5 467.0,105.1 469.6,103.8 472.3,102.5 475.1,101.4 478.0,100.4 481.0,99.4 484.1,98.6 487.3,97.9 490.7,97.4 494.4,97.0 498.3,96.7 502.2,96.5 506.1,96.4 509.7,96.4 513.1,96.4 516.0,96.4 518.4,96.4 520.4,96.4 522.1,96.5 523.5,96.6 525.0,96.8 526.4,97.1 528.1,97.4 530.0,97.9 532.2,98.5 534.7,99.2 537.2,100.0 539.9,100.9 542.5,101.8 545.1,102.8 547.7,103.9 550.0,105.0 552.2,106.2 554.4,107.4 556.6,108.7 558.6,110.1 560.6,111.5 562.5,112.9 564.3,114.5 566.0,116.0 567.6,117.6 569.0,119.2 570.3,120.9 571.6,122.7 572.7,124.5 573.9,126.3 574.9,128.1 576.0,130.0 577.0,131.9 578.1,133.8 579.0,135.7 579.9,137.7 580.8,139.7 581.6,141.7 582.3,143.8 583.0,146.0 583.6,148.2 584.1,150.5 584.5,152.9 584.9,155.3 585.3,157.7 585.6,160.2 585.8,162.6 586.0,165.0 586.2,167.4 586.3,169.8 586.4,172.2 586.4,174.6 586.4,177.0 586.3,179.4 586.2,181.7 586.0,184.0 585.8,186.3 585.6,188.5 585.4,190.7 585.1,192.9 584.7,195.0 584.2,197.2 583.5,199.3 582.5,201.5 581.3,203.7 579.9,206.0 578.2,208.3 576.5,210.6 574.6,212.8 572.6,214.9 570.7,216.9 568.7,218.7 566.7,220.3 564.4,221.8 562.1,223.2 559.8,224.5 557.5,225.7 555.3,226.8 553.3,227.9 551.5,229.0 550.0,230.0 548.8,231.0 547.7,231.9 546.7,232.7 545.8,233.5 544.9,234.3 544.0,235.1 543.0,236.0" fill="none" stroke="#141414" stroke-width="0.55" stroke-linejoin="round"/>
<polygon points="501.8,96.5 498.9,97.8 498.8,95.6" fill="#141414"/>
<polygon points="560.9,111.7 557.8,110.9 559.1,109.1" fill="#141414"/>
<polygon points="586.0,165.4 584.7,162.5 586.9,162.3" fill="#141414"/>
<polyline points="433.0,149.0 435.1,145.7 437.2,142.3 439.2,138.8 441.3,135.4 443.4,132.1 445.5,129.0 447.7,126.1 450.0,123.7 452.4,121.7 454.8,120.0 457.3,118.5 459.9,117.3 462.4,116.3 465.0,115.4 467.6,114.5 470.1,113.6 472.6,112.7 475.1,112.0 477.6,111.3 480.2,110.7 482.7,110.2 485.2,109.8 487.7,109.5 490.2,109.3 492.7,109.2 495.3,109.2 498.0,109.3 500.6,109.5 503.1,109.8 505.6,110.1 508.0,110.4 510.2,110.8 512.3,111.2 514.2,111.6 516.0,112.1 517.7,112.6 519.4,113.2 521.1,113.8 522.8,114.4 524.6,115.0 526.5,115.6 528.5,116.3 530.5,117.0 532.5,117.7 534.4,118.5 536.4,119.2 538.2,120.1 540.0,121.0 541.7,122.0 543.3,123.0 544.9,124.0 546.5,125.1 547.9,126.3 549.4,127.5 550.7,128.7 552.0,130.0 553.2,131.3 554.4,132.8 555.5,134.2 556.5,135.8 557.5,137.3 558.4,138.9 559.2,140.4 560.0,142.0 560.7,143.6 561.3,145.1 561.9,146.7 562.4,148.3 562.9,149.9 563.3,151.5 563.7,153.2 564.0,155.0 564.3,156.8 564.6,158.7 564.8,160.6 565.0,162.5 565.2,164.5 565.2,166.5 565.3,168.6 565.3,170.6 565.3,172.7 565.2,174.7 565.2,176.8 565.1,178.9 564.9,181.0 564.6,183.2 564.2,185.5 563.6,187.8 562.9,190.3 562.0,192.9 561.0,195.6 559.8,198.3 558.7,201.0 557.4,203.7 556.2,206.1 555.0,208.4 553.8,210.5 552.4,212.4 551.0,214.1 549.6,215.8 548.3,217.4 547.0,219.0 545.8,220.5 544.7,222.0 543.8,223.5 543.0,224.8 542.4,226.2 541.8,227.4 541.2,228.7 540.7,229.9 540.1,231.2 539.5,232.5" fill="none" stroke="#141414" stroke-width="0.55" stroke-linejoin="round"/>
<polygon points="480.5,110.7 477.8,112.4 477.3,110.3" fill="#141414"/>
<polygon points="542.2,122.3 539.1,121.7 540.2,119.8" fill="#141414"/>
<polygon points="565.2,165.1 563.9,162.2 566.1,162.1" fill="#141414"/>
<polyline points="433.0,149.0 435.5,146.8 438.1,144.5 440.7,142.1 443.3,139.7 445.8,137.5 448.3,135.4 450.7,133.6 452.9,132.2 454.9,131.2 456.7,130.5 458.4,130.1 460.0,129.9 461.7,129.8 463.3,129.8 465.2,129.7 467.2,129.4 469.5,129.0 472.0,128.6 474.6,128.1 477.2,127.6 479.9,127.2 482.5,126.9 485.0,126.6 487.3,126.5 489.4,126.5 491.3,126.6 493.1,126.8 494.8,127.1 496.5,127.4 498.2,127.8 499.8,128.3 501.6,128.8 503.4,129.4 505.2,130.0 507.0,130.7 508.8,131.5 510.6,132.3 512.4,133.2 514.2,134.1 516.0,135.1 517.8,136.1 519.7,137.2 521.6,138.4 523.5,139.6 525.4,140.8 527.1,142.2 528.6,143.6 530.0,145.1 531.1,146.7 532.1,148.5 532.9,150.3 533.7,152.2 534.3,154.2 534.9,156.2 535.4,158.1 536.0,160.0 536.6,161.9 537.1,163.7 537.6,165.6 538.0,167.5 538.4,169.4 538.8,171.2 539.2,173.1 539.5,175.0 539.8,176.9 540.0,178.8 540.3,180.6 540.4,182.5 540.6,184.4 540.7,186.2 540.9,188.1 541.0,190.0 541.1,191.9 541.2,193.9 541.3,195.8 541.4,197.8 541.4,199.7 541.5,201.6 541.5,203.4 541.5,205.0 541.5,206.5 541.4,207.9 541.4,209.1 541.3,210.3 541.2,211.5 541.1,212.6 541.1,213.8 541.0,215.0" fill="none" stroke="#141414" stroke-width="0.55" stroke-linejoin="round"/>
<polygon points="482.8,126.8 480.0,128.3 479.7,126.1" fill="#141414"/>
<polygon points="530.4,145.5 527.6,144.0 529.2,142.6" fill="#141414"/>
<polyline points="433.0,149.0 434.8,148.5 436.5,148.0 438.2,147.5 439.9,147.0 441.7,146.5 443.4,146.0 445.3,145.5 447.2,145.1 449.2,144.7 451.4,144.3 453.7,143.8 456.0,143.5 458.2,143.1 460.4,142.8 462.5,142.5 464.4,142.3 466.0,142.1 467.5,142.0 468.7,141.9 469.9,141.9 471.1,141.9 472.5,141.9 474.0,142.1 475.8,142.3 477.9,142.6 480.3,143.0 482.8,143.4 485.5,143.9 488.2,144.5 490.9,145.1 493.5,145.8 495.9,146.6 498.2,147.5 500.6,148.4 502.9,149.5 505.2,150.6 507.4,151.8 509.5,152.9 511.4,154.1 513.1,155.2 514.6,156.3 516.0,157.3 517.1,158.4 518.2,159.4 519.2,160.5 520.1,161.5 520.9,162.6 521.7,163.8 522.5,165.0 523.1,166.1 523.7,167.3 524.2,168.6 524.7,169.8 525.1,171.1 525.6,172.5 526.0,174.0 526.5,175.6 526.9,177.3 527.3,179.1 527.7,181.0 528.1,182.9 528.5,184.7 528.8,186.4 529.0,188.0 529.2,189.4 529.3,190.8 529.4,192.0 529.4,193.2 529.4,194.4 529.4,195.6 529.5,196.8 529.5,198.0" fill="none" stroke="#141414" stroke-width="0.55" stroke-linejoin="round"/>
<polygon points="473.4,142.0 470.4,142.9 470.5,140.7" fill="#141414"/>
<polygon points="509.8,153.2 506.7,152.6 507.8,150.7" fill="#141414"/>
<polyline points="433.0,149.0 434.4,149.6 435.7,150.4 437.0,151.1 438.3,151.8 439.6,152.5 441.1,153.1 442.6,153.5 444.3,153.7 446.1,153.7 448.1,153.4 450.2,153.0 452.4,152.5 454.6,152.0 456.9,151.5 459.2,151.1 461.5,150.9 463.9,150.8 466.5,150.8 469.1,150.9 471.7,151.0 474.4,151.2 476.9,151.4 479.3,151.8 481.6,152.3 483.7,152.9 485.7,153.6 487.6,154.4 489.5,155.3 491.2,156.3 492.9,157.3 494.4,158.4 495.9,159.5 497.3,160.6 498.5,161.8 499.7,163.1 500.7,164.4 501.8,165.8 502.7,167.2 503.6,168.6 504.5,170.0 505.3,171.5 506.1,173.0 506.8,174.5 507.4,176.1 508.1,177.7 508.7,179.3 509.3,180.9 510.0,182.5" fill="none" stroke="#141414" stroke-width="0.55" stroke-linejoin="round"/>
<polygon points="469.4,150.9 466.4,151.9 466.4,149.7" fill="#141414"/>
<polyline points="434.0,152.0 434.9,153.0 435.6,154.1 436.4,155.2 437.1,156.3 438.0,157.3 438.9,158.3 440.1,159.0 441.5,159.5 443.2,159.7 445.2,159.6 447.4,159.3 449.7,158.9 452.0,158.4 454.4,158.1 456.6,157.9 458.7,158.0 460.7,158.4 462.7,158.9 464.7,159.7 466.6,160.5 468.4,161.3 470.1,162.2 471.6,163.0 473.0,163.8 474.1,164.5 475.0,165.2 475.8,165.9 476.4,166.5 476.9,167.2 477.5,167.9 478.0,168.5 478.7,169.2" fill="none" stroke="#141414" stroke-width="0.55" stroke-linejoin="round"/>
<polygon points="457.1,157.9 454.2,159.2 454.0,157.0" fill="#141414"/>
<polyline points="426.5,178.5 427.3,176.9 428.1,175.2 428.9,173.5 429.7,171.8 430.5,170.1 431.3,168.6 432.1,167.2 433.0,166.0 433.9,165.0 434.9,164.2 435.9,163.6 436.9,163.0 437.9,162.6 439.0,162.2 440.0,161.8 441.0,161.5 442.0,161.2 443.0,160.9 444.0,160.7 445.1,160.5 446.1,160.4 447.1,160.4 448.0,160.4 449.0,160.5 449.9,160.7 450.9,161.0 451.8,161.4 452.8,161.9 453.6,162.4 454.5,162.9 455.3,163.5 456.0,164.0 456.6,164.6 457.2,165.1 457.7,165.8 458.2,166.4 458.6,167.1 459.1,167.7 459.5,168.4 460.0,169.0" fill="none" stroke="#141414" stroke-width="0.55" stroke-linejoin="round"/>
<polyline points="426.5,178.5 427.1,177.4 427.6,176.3 428.1,175.1 428.7,174.0 429.2,172.9 429.8,171.8 430.4,170.8 431.0,170.0 431.7,169.3 432.4,168.6 433.1,168.0 433.9,167.4 434.7,166.9 435.5,166.5 436.2,166.2 437.0,166.0 437.8,165.9 438.5,165.8 439.3,165.9 440.1,166.0 440.9,166.2 441.6,166.4 442.3,166.7 443.0,167.0 443.6,167.4 444.1,167.8 444.6,168.3 445.1,168.8 445.6,169.4 446.0,169.9 446.5,170.5 447.0,171.0" fill="none" stroke="#141414" stroke-width="0.55" stroke-linejoin="round"/>
<polyline points="600.0,222.0 597.4,222.7 594.7,223.3 592.1,224.0 589.5,224.7 586.8,225.3 584.2,226.0 581.6,226.6 579.0,227.3 576.4,228.0 573.7,228.6 570.9,229.3 568.2,229.9 565.6,230.6 563.0,231.2 560.6,231.9 558.4,232.5 556.4,233.1 554.5,233.8 552.8,234.4 551.2,235.1 549.7,235.7 548.2,236.3 546.6,237.0 545.0,237.6" fill="none" stroke="#141414" stroke-width="0.55" stroke-linejoin="round"/>
<polygon points="581.4,226.7 584.0,224.9 584.5,227.0" fill="#141414"/>
<polyline points="600.0,236.0 596.0,236.2 591.9,236.4 587.7,236.6 583.6,236.8 579.5,237.0 575.6,237.2 572.0,237.4 568.7,237.6 565.8,237.8 563.1,238.0 560.8,238.1 558.6,238.3 556.5,238.5 554.4,238.7 552.3,238.8 550.0,239.0" fill="none" stroke="#141414" stroke-width="0.55" stroke-linejoin="round"/>
<polyline points="415.0,174.0 415.5,169.9 416.0,165.7 416.5,161.3 417.0,157.1 417.5,152.9 418.0,149.0 418.4,145.3 418.8,142.0 419.1,139.3 419.3,137.3 419.4,135.7 419.6,134.2 419.7,132.6 419.9,130.7 420.1,128.2 420.5,124.8 421.0,120.5 421.6,115.4 422.2,109.8 422.9,103.8 423.7,97.7 424.4,91.5 425.1,85.6 425.7,80.0 426.3,74.8 426.8,69.7 427.4,64.6 427.9,59.7 428.4,54.8 428.9,49.9 429.5,45.0 430.0,40.0 430.6,35.0 431.1,30.0 431.7,25.0 432.2,20.0 432.8,15.0 433.4,10.0 433.9,5.0 434.5,0.0" fill="none" stroke="#141414" stroke-width="0.55" stroke-linejoin="round"/>
<polygon points="420.9,121.1 421.7,124.2 419.5,123.9" fill="#141414"/>
<polygon points="427.3,65.6 428.0,68.7 425.9,68.4" fill="#141414"/>
<polygon points="431.6,25.9 432.3,29.0 430.1,28.8" fill="#141414"/>
<polyline points="336.0,174.0 337.0,174.6 337.9,175.0 338.6,175.4 339.4,175.9 340.4,176.4 341.6,177.1 343.1,177.9 345.0,179.0 347.5,180.4 350.4,182.1 353.6,184.0 357.1,186.0 360.7,188.1 364.3,190.1 367.8,192.0 371.0,193.7 374.1,195.3 377.3,196.8 380.5,198.3 383.6,199.7 386.5,201.0 389.3,202.2 391.8,203.4 394.0,204.4 395.8,205.3 397.2,206.0 398.4,206.6 399.4,207.1 400.2,207.5 401.1,208.0 402.0,208.5 403.0,209.0" fill="none" stroke="#141414" stroke-width="0.55" stroke-linejoin="round"/>
<polygon points="370.8,193.6 367.6,193.2 368.7,191.2" fill="#141414"/>
<polyline points="336.0,218.7 337.1,218.8 338.1,218.9 339.2,218.9 340.2,219.0 341.3,219.1 342.4,219.2 343.6,219.4 345.0,219.7 346.4,220.1 347.7,220.6 349.0,221.2 350.5,221.8 352.1,222.4 353.9,223.1 356.2,223.7 358.8,224.3 362.1,224.9 366.2,225.5 370.7,226.2 375.5,226.8 380.1,227.4 384.5,228.0 388.2,228.5 391.0,228.9 392.9,229.2 394.1,229.4 394.7,229.5 395.0,229.6 395.0,229.6 395.0,229.7 395.1,229.7 395.5,229.8" fill="none" stroke="#141414" stroke-width="0.55" stroke-linejoin="round"/>
<polygon points="354.5,223.3 351.3,223.3 352.0,221.2" fill="#141414"/>
<polyline points="388.5,160.0 389.4,161.0 390.4,162.0 391.3,163.0 392.3,164.0 393.2,164.9 394.2,165.9 395.1,167.0 396.0,168.0 396.9,169.1 397.8,170.2 398.7,171.3 399.7,172.4 400.5,173.6 401.4,174.7 402.2,175.8 403.0,176.8 403.7,177.8 404.4,178.7 405.0,179.6 405.6,180.5 406.2,181.4 406.8,182.2 407.4,183.1 408.0,184.0" fill="none" stroke="#141414" stroke-width="0.55" stroke-linejoin="round"/>
<polyline points="366.2,161.0 366.2,164.3 366.2,167.6 366.2,171.0 366.2,174.3 366.2,177.6 366.2,180.9 366.2,184.2 366.2,187.5 366.1,190.8 366.1,194.0 366.0,197.2 365.9,200.4 365.8,203.7 365.7,206.9 365.7,210.1 365.6,213.4 365.6,216.7 365.6,220.0 365.6,223.3 365.6,226.7 365.6,230.0 365.6,233.3 365.6,236.7 365.6,240.0" fill="none" stroke="#1e2e1e" stroke-width="0.45" stroke-linejoin="round"/>
<polyline points="382.5,163.0 382.4,166.1 382.3,169.1 382.2,172.1 382.1,175.2 382.0,178.2 381.8,181.3 381.7,184.4 381.5,187.5 381.3,190.7 381.0,193.9 380.7,197.1 380.3,200.3 380.0,203.6 379.7,206.8 379.4,210.1 379.2,213.4 379.0,216.7 378.9,220.0 378.9,223.3 378.8,226.7 378.8,230.0 378.7,233.3 378.7,236.7 378.6,240.0" fill="none" stroke="#1e2e1e" stroke-width="0.45" stroke-linejoin="round"/>
<polyline points="390.6,168.0 390.2,171.2 389.8,174.5 389.4,177.8 388.9,181.0 388.5,184.2 388.1,187.5 387.7,190.8 387.3,194.0 386.9,197.3 386.4,200.6 386.0,204.0 385.6,207.4 385.1,210.7 384.7,213.9 384.4,217.0 384.1,220.0 383.9,222.8 383.7,225.4 383.6,227.9 383.5,230.4 383.4,232.8 383.3,235.1 383.2,237.5 383.1,240.0" fill="none" stroke="#1e2e1e" stroke-width="0.45" stroke-linejoin="round"/>
<polyline points="387.0,0.0 386.5,15.0" fill="none" stroke="#1e2e1e" stroke-width="0.45" stroke-linejoin="round"/>
<polyline points="337.0,98.0 337.7,98.7 338.5,99.5 339.2,100.2 340.0,101.0 340.7,101.7 341.5,102.5 342.2,103.2 343.0,104.0 343.8,104.8 344.6,105.6 345.3,106.4 346.1,107.2 346.9,108.0 347.7,108.9 348.5,109.7 349.3,110.5" fill="none" stroke="#1e2e1e" stroke-width="0.45" stroke-linejoin="round"/>
</g>
<line x1="337.4" y1="1.3" x2="337.4" y2="239.9" stroke="#000" stroke-width="1.4"/>
<line x1="336.7" y1="239.3" x2="598" y2="239.3" stroke="#000" stroke-width="1.4"/>
<line x1="337.4" y1="233.79" x2="340.59999999999997" y2="233.79" stroke="#000" stroke-width="0.8"/>
<line x1="337.4" y1="226.38" x2="340.59999999999997" y2="226.38" stroke="#000" stroke-width="0.8"/>
<line x1="337.4" y1="218.96" x2="340.59999999999997" y2="218.96" stroke="#000" stroke-width="0.8"/>
<line x1="337.4" y1="211.55" x2="340.59999999999997" y2="211.55" stroke="#000" stroke-width="0.8"/>
<line x1="337.4" y1="204.14" x2="343.09999999999997" y2="204.14" stroke="#000" stroke-width="1.6"/>
<line x1="337.4" y1="196.73" x2="340.59999999999997" y2="196.73" stroke="#000" stroke-width="0.8"/>
<line x1="337.4" y1="189.32" x2="340.59999999999997" y2="189.32" stroke="#000" stroke-width="0.8"/>
<line x1="337.4" y1="181.90" x2="340.59999999999997" y2="181.90" stroke="#000" stroke-width="0.8"/>
<line x1="337.4" y1="174.49" x2="340.59999999999997" y2="174.49" stroke="#000" stroke-width="0.8"/>
<line x1="337.4" y1="167.08" x2="343.09999999999997" y2="167.08" stroke="#000" stroke-width="1.6"/>
<line x1="337.4" y1="159.67" x2="340.59999999999997" y2="159.67" stroke="#000" stroke-width="0.8"/>
<line x1="337.4" y1="152.26" x2="340.59999999999997" y2="152.26" stroke="#000" stroke-width="0.8"/>
<line x1="337.4" y1="144.84" x2="340.59999999999997" y2="144.84" stroke="#000" stroke-width="0.8"/>
<line x1="337.4" y1="137.43" x2="340.59999999999997" y2="137.43" stroke="#000" stroke-width="0.8"/>
<line x1="337.4" y1="130.02" x2="343.09999999999997" y2="130.02" stroke="#000" stroke-width="1.6"/>
<line x1="337.4" y1="122.61" x2="340.59999999999997" y2="122.61" stroke="#000" stroke-width="0.8"/>
<line x1="337.4" y1="115.20" x2="340.59999999999997" y2="115.20" stroke="#000" stroke-width="0.8"/>
<line x1="337.4" y1="107.78" x2="340.59999999999997" y2="107.78" stroke="#000" stroke-width="0.8"/>
<line x1="337.4" y1="100.37" x2="340.59999999999997" y2="100.37" stroke="#000" stroke-width="0.8"/>
<line x1="337.4" y1="92.96" x2="343.09999999999997" y2="92.96" stroke="#000" stroke-width="1.6"/>
<line x1="337.4" y1="85.55" x2="340.59999999999997" y2="85.55" stroke="#000" stroke-width="0.8"/>
<line x1="337.4" y1="78.14" x2="340.59999999999997" y2="78.14" stroke="#000" stroke-width="0.8"/>
<line x1="337.4" y1="70.72" x2="340.59999999999997" y2="70.72" stroke="#000" stroke-width="0.8"/>
<line x1="337.4" y1="63.31" x2="340.59999999999997" y2="63.31" stroke="#000" stroke-width="0.8"/>
<line x1="337.4" y1="55.90" x2="343.09999999999997" y2="55.90" stroke="#000" stroke-width="1.6"/>
<line x1="337.4" y1="48.49" x2="340.59999999999997" y2="48.49" stroke="#000" stroke-width="0.8"/>
<line x1="337.4" y1="41.08" x2="340.59999999999997" y2="41.08" stroke="#000" stroke-width="0.8"/>
<line x1="337.4" y1="33.66" x2="340.59999999999997" y2="33.66" stroke="#000" stroke-width="0.8"/>
<line x1="337.4" y1="26.25" x2="340.59999999999997" y2="26.25" stroke="#000" stroke-width="0.8"/>
<line x1="337.4" y1="18.84" x2="343.09999999999997" y2="18.84" stroke="#000" stroke-width="1.6"/>
<line x1="337.4" y1="11.43" x2="340.59999999999997" y2="11.43" stroke="#000" stroke-width="0.8"/>
<line x1="337.4" y1="4.02" x2="340.59999999999997" y2="4.02" stroke="#000" stroke-width="0.8"/>
<line x1="355.12" y1="239.3" x2="355.12" y2="236.10000000000002" stroke="#000" stroke-width="0.8"/>
<line x1="373.65" y1="239.3" x2="373.65" y2="236.10000000000002" stroke="#000" stroke-width="0.8"/>
<line x1="392.18" y1="239.3" x2="392.18" y2="233.60000000000002" stroke="#000" stroke-width="1.6"/>
<line x1="410.71" y1="239.3" x2="410.71" y2="236.10000000000002" stroke="#000" stroke-width="0.8"/>
<line x1="429.24" y1="239.3" x2="429.24" y2="236.10000000000002" stroke="#000" stroke-width="0.8"/>
<line x1="447.77" y1="239.3" x2="447.77" y2="236.10000000000002" stroke="#000" stroke-width="0.8"/>
<line x1="466.30" y1="239.3" x2="466.30" y2="233.60000000000002" stroke="#000" stroke-width="1.6"/>
<line x1="484.83" y1="239.3" x2="484.83" y2="236.10000000000002" stroke="#000" stroke-width="0.8"/>
<line x1="503.36" y1="239.3" x2="503.36" y2="236.10000000000002" stroke="#000" stroke-width="0.8"/>
<line x1="521.89" y1="239.3" x2="521.89" y2="236.10000000000002" stroke="#000" stroke-width="0.8"/>
<line x1="540.42" y1="239.3" x2="540.42" y2="233.60000000000002" stroke="#000" stroke-width="1.6"/>
<line x1="558.95" y1="239.3" x2="558.95" y2="236.10000000000002" stroke="#000" stroke-width="0.8"/>
<line x1="577.48" y1="239.3" x2="577.48" y2="236.10000000000002" stroke="#000" stroke-width="0.8"/>
<line x1="596.01" y1="239.3" x2="596.01" y2="236.10000000000002" stroke="#000" stroke-width="0.8"/>
</svg>
<div class="tl" style="right:567px;top:196.3px">1000</div><div class="tl" style="right:567px;top:159.6px">2000</div><div class="tl" style="right:567px;top:123.0px">3000</div><div class="tl" style="right:567px;top:86.3px">4000</div><div class="tl" style="right:567px;top:49.7px">5000</div><div class="tl" style="right:567px;top:13.1px">6000</div>
<div class="tl" style="right:266px;top:198.6px">1000</div><div class="tl" style="right:266px;top:161.6px">2000</div><div class="tl" style="right:266px;top:124.5px">3000</div><div class="tl" style="right:266px;top:87.5px">4000</div><div class="tl" style="right:266px;top:50.4px">5000</div><div class="tl" style="right:266px;top:13.3px">6000</div>
<div class="tl c" style="left:69.7px;top:238.2px">-2000</div><div class="tl c" style="left:143.0px;top:238.2px">0</div><div class="tl c" style="left:216.3px;top:238.2px">2000</div>
<div class="tl c" style="left:372.2px;top:240.3px">-2000</div><div class="tl c" style="left:446.3px;top:240.3px">0</div><div class="tl c" style="left:520.4px;top:240.3px">2000</div>
<div class="ax" style="left:152px;top:247.2px">X [m]</div>
<div class="ax" style="left:455px;top:249.8px">X [m]</div>
<div class="ax" style="left:-7.5px;top:103.2px;transform:rotate(-90deg);width:26px;">R [m]</div>
<div class="ax" style="left:292.5px;top:103.2px;transform:rotate(-90deg);width:26px;">R [m]</div>
<div class="leg" style="left:197.9px;top:16px;width:73.1px;height:98px"></div><div class="lt" style="left:201px;top:18.3px">Number</div><div class="lt" style="left:201px;top:26.8px">Density&nbsp; [m<sup>-3</sup>]</div><div class="lt" style="left:201px;top:36.4px">(a=(1-1.5)x10<sup>-4</sup> m)</div><div class="bx" style="left:200.3px;top:48.10px;height:4.58px;background:#e3262a"></div><div class="bx" style="left:200.3px;top:52.68px;height:9.16px;background:#f39323"></div><div class="bx" style="left:200.3px;top:61.84px;height:9.16px;background:#d5df26"></div><div class="bx" style="left:200.3px;top:71.00px;height:9.16px;background:#6cb845"></div><div class="bx" style="left:200.3px;top:80.16px;height:9.16px;background:#62b347"></div><div class="bx" style="left:200.3px;top:89.32px;height:9.16px;background:#5ec4b6"></div><div class="bx" style="left:200.3px;top:98.48px;height:9.16px;background:#3b80c4"></div><div class="bx" style="left:200.3px;top:107.64px;height:4.58px;background:#3750a2"></div><div class="ll" style="left:217.8px;top:49.60px">3.5x10<sup>+00</sup></div><div class="ll" style="left:217.8px;top:58.68px">1.5x10<sup>+00</sup></div><div class="ll" style="left:217.8px;top:67.76px">5.5x10<sup>-01</sup></div><div class="ll" style="left:217.8px;top:76.84px">3.3x10<sup>-01</sup></div><div class="ll" style="left:217.8px;top:85.92px">1.4x10<sup>-01</sup></div><div class="ll" style="left:217.8px;top:95.00px">4.4x10<sup>-02</sup></div><div class="ll" style="left:217.8px;top:104.08px">2.2x10<sup>-02</sup></div>
<div class="leg" style="left:348.5px;top:14.7px;width:68.5px;height:146.5px"></div><div class="lt" style="left:359px;top:15.8px">Speed&nbsp; [m/s]</div><div class="lt" style="left:361px;top:24.2px">(a=10<sup>-4</sup> m)</div><div class="bx" style="left:358.6px;top:37.00px;height:4.62px;background:#e3262a"></div><div class="bx" style="left:358.6px;top:41.62px;height:9.23px;background:#ea5a28"></div><div class="bx" style="left:358.6px;top:50.84px;height:9.23px;background:#f6a01f"></div><div class="bx" style="left:358.6px;top:60.08px;height:9.23px;background:#ece52a"></div><div class="bx" style="left:358.6px;top:69.31px;height:9.23px;background:#b4d334"></div><div class="bx" style="left:358.6px;top:78.54px;height:9.23px;background:#79c043"></div><div class="bx" style="left:358.6px;top:87.77px;height:9.23px;background:#69b845"></div><div class="bx" style="left:358.6px;top:97.00px;height:9.23px;background:#5fb14a"></div><div class="bx" style="left:358.6px;top:106.23px;height:9.23px;background:#64bd8e"></div><div class="bx" style="left:358.6px;top:115.46px;height:9.23px;background:#66c9de"></div><div class="bx" style="left:358.6px;top:124.69px;height:9.23px;background:#3a92d2"></div><div class="bx" style="left:358.6px;top:133.92px;height:9.23px;background:#3a57a8"></div><div class="bx" style="left:358.6px;top:143.15px;height:4.62px;background:#34489c"></div><div class="ll" style="left:376.5px;top:38.60px">2.0x10<sup>+00</sup></div><div class="ll" style="left:376.5px;top:47.83px">1.8x10<sup>+00</sup></div><div class="ll" style="left:376.5px;top:57.06px">1.6x10<sup>+00</sup></div><div class="ll" style="left:376.5px;top:66.29px">1.4x10<sup>+00</sup></div><div class="ll" style="left:376.5px;top:75.52px">1.2x10<sup>+00</sup></div><div class="ll" style="left:376.5px;top:84.75px">1.0x10<sup>+00</sup></div><div class="ll" style="left:376.5px;top:93.98px">8.0x10<sup>-01</sup></div><div class="ll" style="left:376.5px;top:103.21px">6.0x10<sup>-01</sup></div><div class="ll" style="left:376.5px;top:112.44px">5.2x10<sup>-01</sup></div><div class="ll" style="left:376.5px;top:121.67px">5.0x10<sup>-01</sup></div><div class="ll" style="left:376.5px;top:130.90px">4.0x10<sup>-01</sup></div><div class="ll" style="left:376.5px;top:140.13px">2.0x10<sup>-01</sup></div>
<div class="pl" style="left:277.6px;top:8.6px">(a)</div>
<div class="pl" style="left:556.6px;top:8.2px">(b)</div>
</body></html>
